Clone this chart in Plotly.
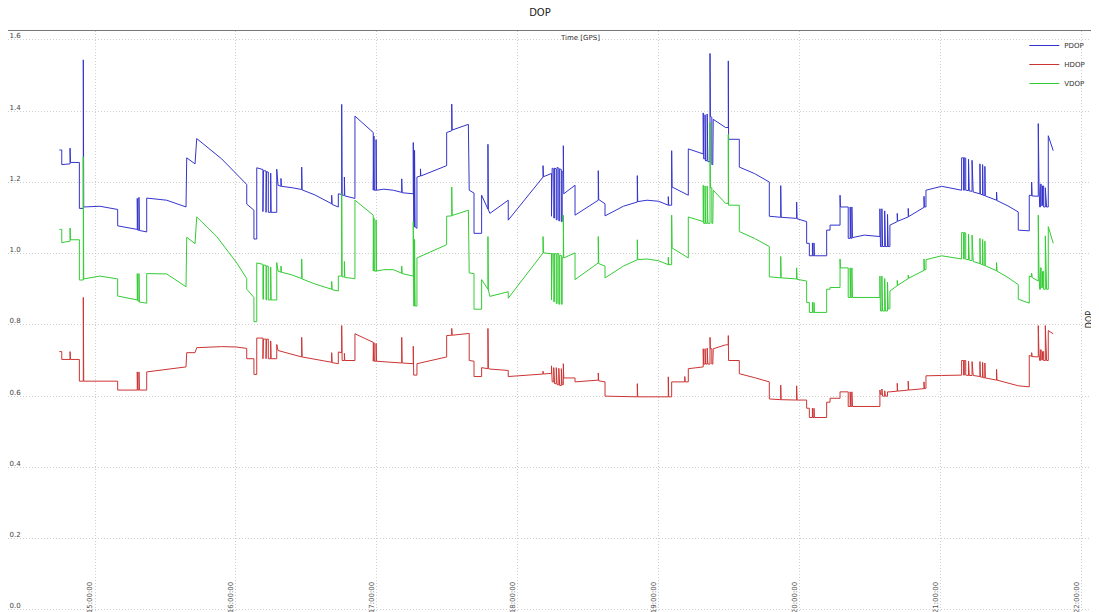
import pandas as pd
import plotly.graph_objects as go

# ---- data: (time in decimal hours GPS, value) ----
PDOP = [
    (14.747, 1.291), (14.764, 1.291), (14.764, 1.250), (14.823, 1.252), (14.823, 1.296), (14.826, 1.256),
    (14.889, 1.256), (14.889, 1.127), (14.917, 1.127), (14.917, 1.544), (14.920, 1.131),
    (15.035, 1.133), (15.154, 1.124), (15.161, 1.124), (15.161, 1.078), (15.300, 1.068),
    (15.300, 1.155), (15.303, 1.066), (15.312, 1.066), (15.312, 1.158), (15.315, 1.065),
    (15.367, 1.061), (15.367, 1.156), (15.509, 1.150), (15.646, 1.131), (15.651, 1.269),
    (15.710, 1.252), (15.722, 1.323), (15.899, 1.266), (16.077, 1.194), (16.077, 1.139),
    (16.128, 1.122), (16.128, 1.041), (16.148, 1.041), (16.148, 1.241), (16.192, 1.236),
    (16.192, 1.118), (16.196, 1.118), (16.196, 1.233), (16.214, 1.232), (16.214, 1.116),
    (16.218, 1.116), (16.218, 1.230), (16.230, 1.229), (16.230, 1.116), (16.247, 1.116),
    (16.247, 1.226), (16.250, 1.116), (16.290, 1.116), (16.290, 1.237), (16.299, 1.192),
    (16.320, 1.189), (16.320, 1.211), (16.323, 1.189), (16.400, 1.185), (16.467, 1.180),
    (16.467, 1.243), (16.470, 1.179), (16.560, 1.165), (16.680, 1.140), (16.680, 1.164),
    (16.683, 1.138), (16.727, 1.131), (16.727, 1.168), (16.751, 1.166), (16.751, 1.419),
    (16.754, 1.164), (16.770, 1.164), (16.770, 1.215), (16.773, 1.162), (16.845, 1.155),
    (16.845, 1.386), (16.975, 1.340), (16.975, 1.178), (16.980, 1.178), (16.980, 1.330),
    (16.983, 1.178), (16.995, 1.178), (16.995, 1.320), (16.998, 1.178), (17.050, 1.181),
    (17.117, 1.178), (17.177, 1.172), (17.177, 1.210), (17.180, 1.171), (17.259, 1.168),
    (17.259, 1.312), (17.262, 1.075), (17.268, 1.075), (17.268, 1.290), (17.272, 1.075),
    (17.285, 1.071), (17.285, 1.215), (17.310, 1.218), (17.310, 1.238), (17.313, 1.218),
    (17.496, 1.247), (17.496, 1.340), (17.532, 1.345), (17.532, 1.420), (17.535, 1.347),
    (17.650, 1.363), (17.656, 1.178), (17.690, 1.170), (17.690, 1.057), (17.744, 1.057),
    (17.744, 1.164), (17.789, 1.125), (17.789, 1.307), (17.792, 1.123), (17.803, 1.113),
    (17.933, 1.150), (17.933, 1.094), (18.180, 1.215), (18.180, 1.247), (18.183, 1.216),
    (18.240, 1.225), (18.240, 1.105), (18.245, 1.105), (18.245, 1.240), (18.256, 1.238),
    (18.256, 1.100), (18.262, 1.100), (18.262, 1.240), (18.274, 1.238), (18.274, 1.095),
    (18.280, 1.095), (18.280, 1.242), (18.292, 1.240), (18.292, 1.092), (18.298, 1.092),
    (18.298, 1.238), (18.310, 1.236), (18.310, 1.090), (18.316, 1.090), (18.316, 1.230),
    (18.324, 1.230), (18.324, 1.303), (18.327, 1.168), (18.407, 1.192), (18.407, 1.108),
    (18.572, 1.150), (18.572, 1.233), (18.575, 1.152), (18.620, 1.140), (18.620, 1.106),
    (18.750, 1.133), (18.849, 1.145), (18.849, 1.219), (18.852, 1.146), (18.918, 1.150),
    (19.000, 1.147), (19.069, 1.136), (19.069, 1.160), (19.072, 1.136), (19.093, 1.136),
    (19.093, 1.289), (19.096, 1.187), (19.211, 1.164), (19.211, 1.294), (19.317, 1.280),
    (19.317, 1.395), (19.320, 1.266), (19.330, 1.266), (19.330, 1.390), (19.334, 1.260),
    (19.345, 1.262), (19.345, 1.392), (19.350, 1.258), (19.365, 1.258), (19.365, 1.562),
    (19.368, 1.385), (19.378, 1.383), (19.378, 1.250), (19.385, 1.250), (19.388, 1.377),
    (19.476, 1.354), (19.495, 1.354), (19.495, 1.541), (19.497, 1.321), (19.573, 1.321),
    (19.573, 1.243), (19.680, 1.225), (19.786, 1.201), (19.786, 1.105), (19.867, 1.102),
    (19.867, 1.191), (19.870, 1.102), (19.980, 1.099), (19.980, 1.145), (19.983, 1.098),
    (20.051, 1.090), (20.051, 1.029), (20.070, 1.029), (20.070, 0.994), (20.092, 0.994),
    (20.092, 1.030), (20.095, 0.994), (20.103, 0.994), (20.103, 1.030), (20.106, 0.994),
    (20.193, 0.994), (20.193, 1.066), (20.217, 1.066), (20.217, 1.080), (20.288, 1.080),
    (20.288, 1.164), (20.291, 1.131), (20.346, 1.131), (20.346, 1.043), (20.360, 1.043),
    (20.360, 1.131), (20.364, 1.043), (20.372, 1.043), (20.372, 1.131), (20.376, 1.045),
    (20.460, 1.052), (20.571, 1.048), (20.571, 1.126), (20.575, 1.020), (20.585, 1.020),
    (20.585, 1.126), (20.590, 1.020), (20.605, 1.020), (20.605, 1.120), (20.610, 1.020),
    (20.625, 1.020), (20.625, 1.110), (20.630, 1.020), (20.642, 1.020), (20.642, 1.080),
    (20.694, 1.090), (20.694, 1.113), (20.697, 1.091), (20.772, 1.103), (20.772, 1.127),
    (20.775, 1.104), (20.884, 1.130), (20.884, 1.161), (20.887, 1.131), (20.898, 1.131),
    (20.898, 1.178), (21.009, 1.189), (21.139, 1.180), (21.151, 1.178), (21.151, 1.269),
    (21.165, 1.269), (21.165, 1.178), (21.170, 1.178), (21.170, 1.269), (21.180, 1.268),
    (21.180, 1.178), (21.200, 1.177), (21.200, 1.265), (21.205, 1.176), (21.225, 1.175),
    (21.225, 1.262), (21.233, 1.173), (21.281, 1.168), (21.281, 1.252), (21.284, 1.167),
    (21.300, 1.165), (21.300, 1.250), (21.303, 1.164), (21.316, 1.163), (21.316, 1.245),
    (21.319, 1.162), (21.399, 1.150), (21.399, 1.173), (21.402, 1.149), (21.480, 1.134),
    (21.553, 1.117), (21.553, 1.066), (21.624, 1.064), (21.631, 1.064), (21.631, 1.164),
    (21.648, 1.163), (21.648, 1.201), (21.651, 1.162), (21.695, 1.161), (21.695, 1.365),
    (21.700, 1.200), (21.705, 1.131), (21.710, 1.131), (21.710, 1.195), (21.716, 1.195),
    (21.716, 1.135), (21.725, 1.135), (21.725, 1.190), (21.733, 1.190), (21.733, 1.131),
    (21.745, 1.131), (21.745, 1.185), (21.754, 1.131), (21.766, 1.131), (21.766, 1.331),
    (21.801, 1.289),
]

HDOP = [
    (14.747, 0.725), (14.764, 0.725), (14.764, 0.703), (14.823, 0.703), (14.823, 0.725), (14.826, 0.703),
    (14.889, 0.703), (14.889, 0.642), (14.917, 0.642), (14.917, 0.877), (14.920, 0.642),
    (15.161, 0.642), (15.161, 0.617), (15.300, 0.617), (15.300, 0.668), (15.303, 0.617),
    (15.312, 0.617), (15.312, 0.668), (15.315, 0.617), (15.367, 0.617), (15.367, 0.668),
    (15.646, 0.682), (15.651, 0.722), (15.710, 0.722), (15.722, 0.736), (15.899, 0.739),
    (16.000, 0.738), (16.077, 0.734), (16.077, 0.705), (16.128, 0.705), (16.128, 0.661),
    (16.148, 0.661), (16.148, 0.763), (16.192, 0.763), (16.192, 0.705), (16.196, 0.705),
    (16.196, 0.760), (16.214, 0.760), (16.214, 0.705), (16.218, 0.705), (16.218, 0.760),
    (16.230, 0.760), (16.230, 0.705), (16.247, 0.705), (16.247, 0.755), (16.250, 0.705),
    (16.290, 0.705), (16.290, 0.745), (16.299, 0.728), (16.467, 0.710), (16.467, 0.765),
    (16.470, 0.710), (16.680, 0.695), (16.680, 0.722), (16.683, 0.694), (16.727, 0.691),
    (16.727, 0.724), (16.751, 0.722), (16.751, 0.798), (16.754, 0.700), (16.770, 0.700),
    (16.770, 0.720), (16.773, 0.700), (16.845, 0.700), (16.845, 0.775), (16.975, 0.751),
    (16.975, 0.698), (16.980, 0.698), (16.980, 0.750), (16.983, 0.698), (16.995, 0.698),
    (16.995, 0.748), (16.998, 0.698), (17.177, 0.693), (17.177, 0.765), (17.180, 0.693),
    (17.259, 0.691), (17.259, 0.740), (17.262, 0.659), (17.285, 0.659), (17.285, 0.691),
    (17.496, 0.710), (17.496, 0.770), (17.532, 0.771), (17.532, 0.790), (17.535, 0.771),
    (17.656, 0.776), (17.656, 0.700), (17.690, 0.698), (17.690, 0.655), (17.744, 0.655),
    (17.744, 0.680), (17.789, 0.677), (17.789, 0.790), (17.792, 0.677), (17.803, 0.676),
    (17.933, 0.672), (17.933, 0.655), (18.180, 0.662), (18.180, 0.670), (18.183, 0.662),
    (18.240, 0.664), (18.240, 0.685), (18.245, 0.640), (18.256, 0.640), (18.256, 0.680),
    (18.262, 0.635), (18.274, 0.635), (18.274, 0.680), (18.280, 0.632), (18.292, 0.632),
    (18.292, 0.678), (18.298, 0.630), (18.310, 0.630), (18.310, 0.677), (18.316, 0.632),
    (18.324, 0.632), (18.324, 0.691), (18.327, 0.651), (18.407, 0.651), (18.407, 0.640),
    (18.572, 0.645), (18.572, 0.665), (18.575, 0.643), (18.620, 0.640), (18.620, 0.600),
    (18.849, 0.598), (18.849, 0.635), (18.852, 0.598), (19.069, 0.598), (19.069, 0.654),
    (19.072, 0.598), (19.093, 0.598), (19.093, 0.640), (19.186, 0.640), (19.186, 0.655),
    (19.189, 0.640), (19.211, 0.640), (19.211, 0.677), (19.317, 0.682), (19.317, 0.733),
    (19.320, 0.690), (19.330, 0.690), (19.330, 0.733), (19.334, 0.690), (19.345, 0.690),
    (19.345, 0.735), (19.350, 0.690), (19.365, 0.690), (19.365, 0.765), (19.368, 0.733),
    (19.378, 0.733), (19.378, 0.690), (19.385, 0.690), (19.388, 0.733), (19.476, 0.744),
    (19.495, 0.744), (19.495, 0.770), (19.497, 0.700), (19.573, 0.700), (19.573, 0.663),
    (19.680, 0.652), (19.786, 0.640), (19.786, 0.592), (19.867, 0.590), (19.867, 0.631),
    (19.870, 0.590), (19.980, 0.589), (19.980, 0.629), (19.983, 0.589), (20.051, 0.589),
    (20.051, 0.566), (20.070, 0.566), (20.070, 0.540), (20.092, 0.540), (20.092, 0.566),
    (20.095, 0.540), (20.103, 0.540), (20.103, 0.566), (20.106, 0.540), (20.193, 0.540),
    (20.193, 0.583), (20.217, 0.583), (20.217, 0.594), (20.288, 0.594), (20.288, 0.612),
    (20.346, 0.612), (20.346, 0.571), (20.360, 0.571), (20.360, 0.612), (20.364, 0.571),
    (20.372, 0.571), (20.372, 0.612), (20.376, 0.571), (20.571, 0.571), (20.571, 0.617),
    (20.575, 0.605), (20.585, 0.605), (20.585, 0.620), (20.590, 0.600), (20.605, 0.600),
    (20.605, 0.615), (20.610, 0.600), (20.625, 0.600), (20.625, 0.612), (20.642, 0.612),
    (20.694, 0.614), (20.694, 0.636), (20.697, 0.614), (20.772, 0.617), (20.772, 0.642),
    (20.775, 0.617), (20.884, 0.621), (20.884, 0.640), (20.887, 0.621), (20.898, 0.622),
    (20.898, 0.657), (21.009, 0.658), (21.151, 0.659), (21.151, 0.700), (21.165, 0.700),
    (21.165, 0.659), (21.170, 0.659), (21.170, 0.700), (21.180, 0.700), (21.180, 0.659),
    (21.200, 0.658), (21.200, 0.698), (21.205, 0.658), (21.225, 0.658), (21.225, 0.697),
    (21.233, 0.658), (21.281, 0.655), (21.281, 0.697), (21.284, 0.654), (21.300, 0.653),
    (21.300, 0.695), (21.303, 0.652), (21.316, 0.651), (21.316, 0.693), (21.319, 0.651),
    (21.399, 0.645), (21.399, 0.675), (21.402, 0.645), (21.553, 0.629), (21.631, 0.626),
    (21.631, 0.714), (21.648, 0.712), (21.648, 0.722), (21.651, 0.711), (21.695, 0.710),
    (21.695, 0.798), (21.700, 0.720), (21.705, 0.700), (21.710, 0.700), (21.710, 0.730),
    (21.716, 0.730), (21.716, 0.702), (21.725, 0.702), (21.725, 0.725), (21.733, 0.725),
    (21.733, 0.700), (21.745, 0.700), (21.745, 0.798), (21.754, 0.700), (21.766, 0.700),
    (21.766, 0.784), (21.801, 0.775),
]

VDOP = [
    (14.747, 1.068), (14.764, 1.068), (14.764, 1.031), (14.823, 1.035), (14.823, 1.072), (14.826, 1.039),
    (14.889, 1.039), (14.889, 0.926), (14.917, 0.926), (14.917, 1.272), (14.920, 0.929),
    (15.035, 0.937), (15.154, 0.929), (15.161, 0.929), (15.161, 0.881), (15.300, 0.870),
    (15.300, 0.944), (15.303, 0.868), (15.312, 0.866), (15.312, 0.944), (15.315, 0.864),
    (15.367, 0.861), (15.367, 0.944), (15.509, 0.943), (15.646, 0.907), (15.651, 1.046),
    (15.710, 1.028), (15.722, 1.103), (15.864, 1.048), (16.006, 0.974), (16.077, 0.930),
    (16.077, 0.900), (16.128, 0.877), (16.128, 0.809), (16.148, 0.809), (16.148, 0.974),
    (16.192, 0.970), (16.192, 0.872), (16.196, 0.872), (16.196, 0.968), (16.214, 0.967),
    (16.214, 0.870), (16.218, 0.870), (16.218, 0.965), (16.230, 0.965), (16.230, 0.870),
    (16.247, 0.870), (16.247, 0.962), (16.250, 0.870), (16.290, 0.870), (16.290, 0.975),
    (16.299, 0.951), (16.320, 0.948), (16.320, 0.965), (16.323, 0.948), (16.400, 0.940),
    (16.467, 0.930), (16.467, 0.985), (16.470, 0.929), (16.560, 0.915), (16.680, 0.900),
    (16.680, 0.922), (16.683, 0.899), (16.727, 0.895), (16.727, 0.937), (16.751, 0.937),
    (16.751, 1.168), (16.754, 0.935), (16.770, 0.935), (16.770, 0.978), (16.773, 0.933),
    (16.845, 0.930), (16.845, 1.150), (16.975, 1.108), (16.975, 0.951), (16.980, 0.951),
    (16.980, 1.100), (16.983, 0.951), (16.995, 0.951), (16.995, 1.095), (16.998, 0.951),
    (17.050, 0.955), (17.117, 0.955), (17.177, 0.945), (17.177, 0.965), (17.180, 0.944),
    (17.259, 0.937), (17.259, 1.090), (17.262, 0.853), (17.268, 0.853), (17.268, 1.040),
    (17.272, 0.853), (17.285, 0.853), (17.285, 0.988), (17.496, 1.025), (17.496, 1.105),
    (17.532, 1.106), (17.532, 1.187), (17.535, 1.107), (17.650, 1.122), (17.656, 0.946),
    (17.690, 0.944), (17.690, 0.844), (17.744, 0.844), (17.744, 0.927), (17.789, 0.900),
    (17.789, 1.048), (17.792, 0.898), (17.803, 0.880), (17.933, 0.893), (17.933, 0.875),
    (18.180, 1.002), (18.180, 1.048), (18.183, 1.002), (18.240, 1.000), (18.240, 0.870),
    (18.245, 0.870), (18.245, 1.000), (18.256, 1.000), (18.256, 0.865), (18.262, 0.865),
    (18.262, 1.000), (18.274, 1.000), (18.274, 0.860), (18.280, 0.860), (18.280, 1.000),
    (18.292, 1.000), (18.292, 0.858), (18.298, 0.858), (18.298, 0.995), (18.310, 0.995),
    (18.310, 0.858), (18.316, 0.858), (18.316, 0.990), (18.324, 0.990), (18.324, 1.108),
    (18.327, 0.988), (18.407, 1.002), (18.407, 0.927), (18.572, 0.974), (18.572, 1.048),
    (18.575, 0.972), (18.620, 0.965), (18.620, 0.932), (18.750, 0.965), (18.849, 0.983),
    (18.849, 1.039), (18.852, 0.983), (18.918, 0.985), (19.000, 0.980), (19.069, 0.969),
    (19.069, 0.990), (19.072, 0.969), (19.093, 0.969), (19.093, 1.108), (19.096, 1.016),
    (19.211, 0.988), (19.211, 1.103), (19.317, 1.090), (19.317, 1.192), (19.320, 1.085),
    (19.330, 1.085), (19.330, 1.190), (19.334, 1.085), (19.345, 1.085), (19.345, 1.190),
    (19.350, 1.085), (19.365, 1.085), (19.365, 1.368), (19.368, 1.185), (19.378, 1.185),
    (19.378, 1.085), (19.385, 1.085), (19.388, 1.178), (19.476, 1.141), (19.495, 1.141),
    (19.495, 1.335), (19.497, 1.136), (19.573, 1.136), (19.573, 1.062), (19.680, 1.043),
    (19.786, 1.020), (19.786, 0.935), (19.867, 0.932), (19.867, 0.992), (19.870, 0.932),
    (19.980, 0.929), (19.980, 0.960), (19.983, 0.928), (20.051, 0.923), (20.051, 0.863),
    (20.070, 0.863), (20.070, 0.835), (20.092, 0.835), (20.092, 0.863), (20.095, 0.835),
    (20.103, 0.835), (20.103, 0.863), (20.106, 0.835), (20.193, 0.835), (20.193, 0.900),
    (20.217, 0.900), (20.217, 0.905), (20.288, 0.905), (20.288, 0.985), (20.291, 0.960),
    (20.346, 0.960), (20.346, 0.877), (20.360, 0.877), (20.360, 0.960), (20.364, 0.877),
    (20.372, 0.877), (20.372, 0.960), (20.376, 0.877), (20.571, 0.877), (20.571, 0.937),
    (20.575, 0.839), (20.585, 0.839), (20.585, 0.937), (20.590, 0.839), (20.605, 0.839),
    (20.605, 0.930), (20.610, 0.839), (20.625, 0.839), (20.625, 0.920), (20.630, 0.845),
    (20.642, 0.845), (20.642, 0.895), (20.694, 0.910), (20.694, 0.925), (20.697, 0.911),
    (20.772, 0.930), (20.772, 0.940), (20.775, 0.931), (20.884, 0.953), (20.884, 0.985),
    (20.887, 0.954), (20.898, 0.955), (20.898, 0.983), (21.009, 0.994), (21.139, 0.985),
    (21.151, 0.985), (21.151, 1.059), (21.165, 1.059), (21.165, 0.985), (21.170, 0.985),
    (21.170, 1.059), (21.180, 1.058), (21.180, 0.984), (21.200, 0.983), (21.200, 1.055),
    (21.205, 0.982), (21.225, 0.980), (21.225, 1.052), (21.233, 0.978), (21.281, 0.972),
    (21.281, 1.043), (21.284, 0.971), (21.300, 0.969), (21.300, 1.040), (21.303, 0.968),
    (21.316, 0.966), (21.316, 1.035), (21.319, 0.966), (21.399, 0.952), (21.399, 0.975),
    (21.402, 0.951), (21.480, 0.933), (21.553, 0.913), (21.553, 0.872), (21.624, 0.861),
    (21.631, 0.861), (21.631, 0.937), (21.648, 0.935), (21.648, 0.945), (21.651, 0.933),
    (21.695, 0.923), (21.695, 1.108), (21.700, 0.950), (21.705, 0.900), (21.710, 0.900),
    (21.710, 0.960), (21.716, 0.960), (21.716, 0.905), (21.725, 0.905), (21.725, 0.950),
    (21.733, 0.950), (21.733, 0.900), (21.745, 0.900), (21.745, 1.050), (21.754, 0.900),
    (21.766, 0.900), (21.766, 1.076), (21.801, 1.029),
]

SERIES = [("PDOP", PDOP, "#3434cc"), ("HDOP", HDOP, "#cc3434"), ("VDOP", VDOP, "#34cc34")]
Y_TICKS = [0.0, 0.2, 0.4, 0.6, 0.8, 1.0, 1.2, 1.4, 1.6]
X_RANGE_HOURS = [14.3825, 22.126]
Y_RANGE = [-0.006, 1.625]
BASE_DAY = pd.Timestamp("2000-01-01")


def to_time(hours):
    return [BASE_DAY + pd.Timedelta(hours=h) for h in hours]


fig = go.Figure()
for name, pts, color in SERIES:
    hrs = [p[0] for p in pts]
    vals = [p[1] for p in pts]
    fig.add_trace(go.Scatter(x=to_time(hrs), y=vals, mode="lines", name=name,
                             line=dict(color=color, width=1)))

font_family = "DejaVu Sans, Verdana, sans-serif"
grid_dash = "1px,2px"
# the page body adds an 8px offset, so the figure is 8px smaller than the window
fig.update_layout(
    width=1091, height=604,
    margin=dict(l=0, r=0, t=23, b=0, autoexpand=False),
    paper_bgcolor="white", plot_bgcolor="white",
    title=dict(text="DOP", x=0.4876, xanchor="center", y=0.993, yanchor="middle",
               font=dict(family=font_family, size=10, color="#222")),
    font=dict(family=font_family, size=8, color="#444"),
    showlegend=True,
    legend=dict(x=0.992, y=1.0, xanchor="right", yanchor="top", bgcolor="rgba(0,0,0,0)",
                font=dict(size=7, color="#333"), itemwidth=30, tracegroupgap=0),
    xaxis=dict(type="date", range=to_time(X_RANGE_HOURS), tickformat="%H:%M:%S", dtick=3600000,
               tickangle=-90, ticklabelposition="outside", ticks="", automargin=False,
               ticklabelshift=-5, ticklabelstandoff=-34,
               showgrid=True, gridcolor="#cfcfcf", griddash=grid_dash, gridwidth=1,
               showline=True, linecolor="#777", mirror=True, zeroline=False,
               tickfont=dict(size=7, color="#555")),
    yaxis=dict(range=Y_RANGE, tickvals=Y_TICKS, tickformat=".1f", ticklabelposition="inside",
               ticks="", automargin=False, ticklabelshift=-4, ticklabelstandoff=0,
               showgrid=True, gridcolor="#cfcfcf", griddash=grid_dash, gridwidth=1,
               showline=True, linecolor="#777", mirror=True, zeroline=False,
               tickfont=dict(size=7, color="#444")),
    annotations=[
        dict(text="Time [GPS]", xref="paper", yref="paper", x=0.5243, y=0.988, xanchor="center",
             yanchor="middle", showarrow=False, font=dict(size=7, color="#333")),
        dict(text="DOP", xref="paper", yref="paper", x=0.992, y=0.5026, xanchor="center",
             yanchor="middle", textangle=-90, showarrow=False,
             font=dict(size=8, color="#222")),
    ],
)

fig.write_html("out.html")
